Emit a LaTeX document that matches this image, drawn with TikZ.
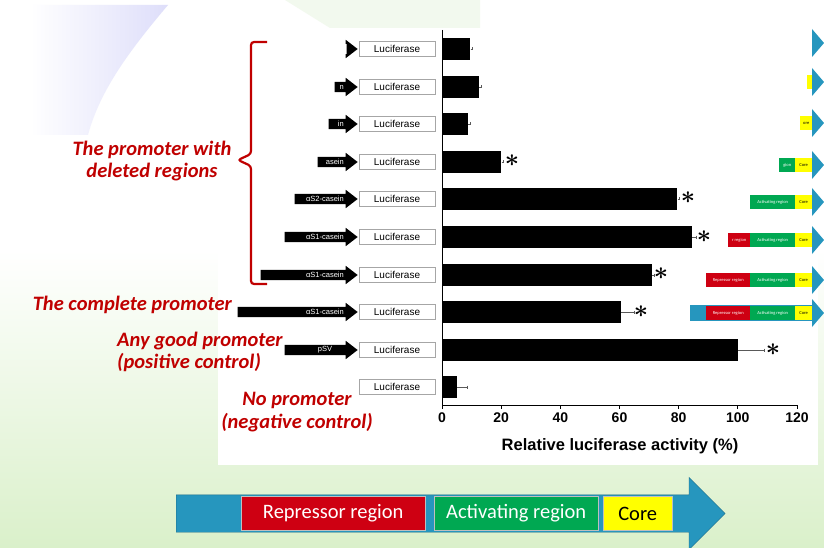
\documentclass[tikz,border=0pt]{standalone}
\usepackage{fontspec}
\setmainfont{Liberation Sans}
\newfontfamily\calibri{Carlito}
\usetikzlibrary{shapes.arrows,arrows.meta}

\definecolor{slidered}{RGB}{192,0,0}
\definecolor{arrowblue}{RGB}{38,150,190}
\definecolor{regred}{RGB}{206,0,18}
\definecolor{reggreen}{RGB}{0,168,82}
\definecolor{regyellow}{RGB}{255,255,0}
\definecolor{bggreen}{RGB}{218,240,202}
\definecolor{lavender}{RGB}{222,222,250}
\definecolor{palegreen}{RGB}{242,249,238}

\begin{document}
\begin{tikzpicture}[
    x=1pt, y=-1pt,
    lucbox/.style={draw=gray!70, fill=white, minimum width=76, minimum height=15, inner sep=0pt,
                   font=\fontsize{10}{10}\selectfont},
    promo/.style={single arrow, fill=black, inner sep=0pt, text height=5pt, text depth=5pt,
                  single arrow head extend=4pt, single arrow tip angle=75, anchor=tip},
    promotext/.style={text=white, font=\fontsize{7.5}{7.5}\selectfont, inner sep=0pt},
    lucbar/.style={fill=black, minimum height=22, inner sep=0pt, anchor=west},
    errbar/.style={gray!70!black, thin, -{Bar[width=3pt]}},
    astr/.style={font=\fontsize{24}{24}\selectfont\boldmath, inner sep=0pt},
    ticklab/.style={font=\fontsize{14}{14}\selectfont\bfseries, inner sep=0pt},
    redtext/.style={text=slidered, font=\calibri\bfseries\itshape\fontsize{20.5}{22.5}\selectfont, inner sep=0pt},
    regbox/.style={minimum height=14, inner sep=0pt, anchor=west, font=\calibri\fontsize{4.5}{5}\selectfont},
    legbox/.style={minimum height=34, inner sep=0pt, anchor=west, draw=black!25,
                   font=\calibri\fontsize{20.5}{22}\selectfont},
]
\useasboundingbox (0,0) rectangle (824,548);

% Background
\fill[white] (0,0) rectangle (824,548);
\shade[top color=white, bottom color=bggreen] (0,250) rectangle (824,548);
\shade[left color=white, right color=lavender] (30,5) -- (168,5) .. controls (130,50) and (100,90) .. (88,135) -- (30,135) -- cycle;
\fill[palegreen] (285,0) -- (480,0) -- (480,28) -- (330,28) -- cycle;
\fill[white] (218,28) rectangle (818,465);

% Axes
\coordinate (O) at (442,405);
\coordinate (Ytop) at (442,30);
\coordinate (Xend) at (797,405);
\draw[thick] (Ytop) -- (O) -- (Xend);

\node[ticklab] (x0) at (442,418) {0};
\node[ticklab] (x20) at (501.2,418) {20};
\node[ticklab] (x40) at (560.3,418) {40};
\node[ticklab] (x60) at (619.5,418) {60};
\node[ticklab] (x80) at (678.7,418) {80};
\node[ticklab] (x100) at (737.8,418) {100};
\node[ticklab] (x120) at (797,418) {120};
\draw[thick] (442,405) -- (442,409) (501.2,405) -- (501.2,409) (560.3,405) -- (560.3,409)
             (619.5,405) -- (619.5,409) (678.7,405) -- (678.7,409) (737.8,405) -- (737.8,409)
             (797,405) -- (797,409);

\node[font=\fontsize{16.5}{16.5}\selectfont\bfseries] (xlabel) at (620,446) {Relative luciferase activity (\%)};

% Luciferase boxes
\node[lucbox] (luc1) at (397,49) {Luciferase};
\node[lucbox] (luc2) at (397,87) {Luciferase};
\node[lucbox] (luc3) at (397,124) {Luciferase};
\node[lucbox] (luc4) at (397,162) {Luciferase};
\node[lucbox] (luc5) at (397,199) {Luciferase};
\node[lucbox] (luc6) at (397,237) {Luciferase};
\node[lucbox] (luc7) at (397,275) {Luciferase};
\node[lucbox] (luc8) at (397,312) {Luciferase};
\node[lucbox] (luc9) at (397,350) {Luciferase};
\node[lucbox] (luc10) at (397,387) {Luciferase};

% Promoter arrows
\node[promo, minimum height=11] (prom1) at (358,49) {};
\node[promo, minimum height=23] (prom2) at (358,87) {};
\node[promo, minimum height=29] (prom3) at (358,124) {};
\node[promo, minimum height=40] (prom4) at (358,162) {};
\node[promo, minimum height=63] (prom5) at (358,199) {};
\node[promo, minimum height=73] (prom6) at (358,237) {};
\node[promo, minimum height=97] (prom7) at (358,275) {};
\node[promo, minimum height=120] (prom8) at (358,312) {};
\node[promo, minimum height=73] (prom9) at (358,350) {};

\node[promotext, anchor=east] (pt2) at (344,87) {n};
\node[promotext, anchor=east] (pt3) at (344,124) {in};
\node[promotext, anchor=east] (pt4) at (344,162) {asein};
\node[promotext, anchor=east] (pt5) at (344,199) {αS2-casein};
\node[promotext, anchor=east] (pt6) at (344,237) {αS1-casein};
\node[promotext, anchor=east] (pt7) at (344,275) {αS1-casein};
\node[promotext, anchor=east] (pt8) at (344,312) {αS1-casein};
\node[promotext] (pt9) at (325,350) {pSV};

% Bars
\node[lucbar, minimum width=28.1] (bar1) at (442,49) {};
\node[lucbar, minimum width=37] (bar2) at (442,87) {};
\node[lucbar, minimum width=26] (bar3) at (442,124) {};
\node[lucbar, minimum width=59.2] (bar4) at (442,162) {};
\node[lucbar, minimum width=235.2] (bar5) at (442,199) {};
\node[lucbar, minimum width=250] (bar6) at (442,237) {};
\node[lucbar, minimum width=210] (bar7) at (442,275) {};
\node[lucbar, minimum width=178.4] (bar8) at (442,312) {};
\node[lucbar, minimum width=295.8] (bar9) at (442,350) {};
\node[lucbar, minimum width=14.8] (bar10) at (442,387) {};

% Error bars
\draw[errbar] (bar1.east) -- ++(2,0);
\draw[errbar] (bar2.east) -- ++(2,0);
\draw[errbar] (bar3.east) -- ++(2,0);
\draw[errbar] (bar4.east) -- ++(2,0);
\draw[errbar] (bar5.east) -- ++(2,0);
\draw[errbar] (bar6.east) -- ++(4,0);
\draw[errbar] (bar7.east) -- ++(2,0);
\draw[errbar] (bar8.east) -- ++(14,0);
\draw[errbar] (bar9.east) -- ++(26,0);
\draw[errbar] (bar10.east) -- ++(10,0);

% Significance marks
\node[astr] (s4) at (512,161) {$\ast$};
\node[astr] (s5) at (688,198) {$\ast$};
\node[astr] (s6) at (704,237) {$\ast$};
\node[astr] (s7) at (661,274) {$\ast$};
\node[astr] (s8) at (641,312) {$\ast$};
\node[astr] (s9) at (773,350) {$\ast$};

% Left labels
\draw[slidered, line width=2.2pt, rounded corners=3pt]
    (267,42) -- (251,42) -- (251,154) -- (238,160) -- (251,166) -- (251,284) -- (267,284);
\node[redtext, align=center] (deleted) at (152,161) {The promoter with\\deleted regions};
\node[redtext, anchor=east] (complete) at (232,305) {The complete promoter};
\node[redtext, align=left, anchor=west] (positive) at (117,352) {Any good promoter\\(positive control)};
\node[redtext, align=center] (negative) at (297,412) {No promoter\\(negative control)};

% Right side promoter maps
\fill[arrowblue] (812,29) -- (824,43) -- (812,57) -- cycle;

\node[regbox, fill=regyellow, minimum width=5] (y2) at (807,82) {};
\fill[arrowblue] (812,68) -- (824,82) -- (812,96) -- cycle;

\node[regbox, fill=regyellow, minimum width=12] (y3) at (800,123) {ore};
\fill[arrowblue] (812,109) -- (824,123) -- (812,137) -- cycle;

\node[regbox, fill=reggreen, text=white, minimum width=16] (g4) at (779,165) {gion};
\node[regbox, fill=regyellow, minimum width=17] (y4) at (795,165) {Core};
\fill[arrowblue] (812,151) -- (824,165) -- (812,179) -- cycle;

\node[regbox, fill=reggreen, text=white, minimum width=45] (g5) at (750,202) {Activating region};
\node[regbox, fill=regyellow, minimum width=17] (y5) at (795,202) {Core};
\fill[arrowblue] (812,188) -- (824,202) -- (812,216) -- cycle;

\node[regbox, fill=regred, text=white, minimum width=22] (r6) at (728,240) {r region};
\node[regbox, fill=reggreen, text=white, minimum width=45] (g6) at (750,240) {Activating region};
\node[regbox, fill=regyellow, minimum width=17] (y6) at (795,240) {Core};
\fill[arrowblue] (812,226) -- (824,240) -- (812,254) -- cycle;

\node[regbox, fill=regred, text=white, minimum width=44] (r7) at (706,280) {Repressor region};
\node[regbox, fill=reggreen, text=white, minimum width=45] (g7) at (750,280) {Activating region};
\node[regbox, fill=regyellow, minimum width=17] (y7) at (795,280) {Core};
\fill[arrowblue] (812,266) -- (824,280) -- (812,294) -- cycle;

\fill[arrowblue] (690,305) rectangle (812,321);
\node[regbox, fill=regred, text=white, minimum width=44] (r8) at (706,313) {Repressor region};
\node[regbox, fill=reggreen, text=white, minimum width=45] (g8) at (750,313) {Activating region};
\node[regbox, fill=regyellow, minimum width=17] (y8) at (795,313) {Core};
\fill[arrowblue] (812,299) -- (824,313) -- (812,327) -- cycle;

% Legend promoter
\node[single arrow, fill=arrowblue, draw=arrowblue!70!black, inner sep=0pt,
      text height=18.5pt, text depth=18.5pt, single arrow head extend=17.5pt,
      minimum height=549, anchor=tail] (legend) at (176,513.5) {};
\node[legbox, fill=regred, text=white, minimum width=184] (lrep) at (241,513.5) {Repressor region};
\node[legbox, fill=reggreen, text=white, minimum width=164] (lact) at (434,513.5) {Activating region};
\node[legbox, fill=regyellow, minimum width=69] (lcore) at (603,513.5) {Core};

\end{tikzpicture}
\end{document}
